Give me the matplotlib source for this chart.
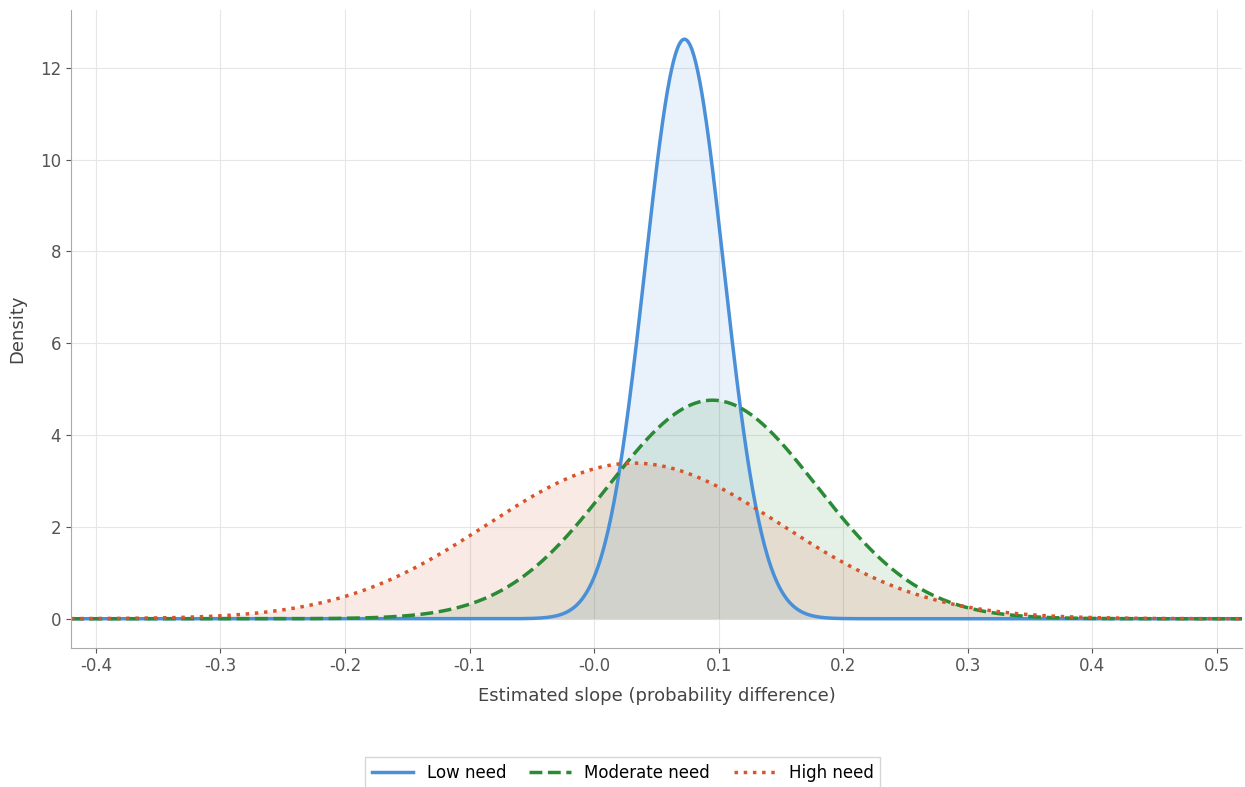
import numpy as np
import matplotlib.pyplot as plt

plt.rcParams['font.family'] = ['DejaVu Sans']

# normal approximations of the slope estimates per group
groups = ["Low need", "Moderate need", "High need"]
means = [0.0725, 0.095, 0.032]
sds = [0.0316, 0.0838, 0.1177]
colors = ["#4a90d9", "#2a8a35", "#d9532b"]
styles = ["-", "--", ":"]

x = np.linspace(-0.42, 0.52, 1200)

fig = plt.figure(figsize=(12.45, 7.87), dpi=100)
ax = fig.add_axes([0.057, 0.177, 0.9405, 0.81])

for name, m, s, c, ls in zip(groups, means, sds, colors, styles):
    y = np.exp(-0.5 * ((x - m) / s) ** 2) / (s * np.sqrt(2 * np.pi))
    ax.plot(x, y, color=c, linestyle=ls, linewidth=2.5, label=name)
    ax.fill_between(x, 0, y, color=c, alpha=0.12, linewidth=0)

ax.set_xlim(-0.42, 0.52)
ax.set_xticks(np.arange(-0.4, 0.51, 0.1))
ax.set_xticklabels(["-0.4", "-0.3", "-0.2", "-0.1", "-0.0", "0.1", "0.2", "0.3", "0.4", "0.5"])
ax.set_yticks([0, 2, 4, 6, 8, 10, 12])
ax.grid(True, color="#e6e6e6", linewidth=0.8)
ax.set_axisbelow(True)
for side in ["top", "right"]:
    ax.spines[side].set_visible(False)
for side in ["left", "bottom"]:
    ax.spines[side].set_color("#aaaaaa")
ax.tick_params(colors="#555555", labelsize=12)
ax.set_xlabel("Estimated slope (probability difference)", fontsize=13, color="#444444", labelpad=8)
ax.set_ylabel("Density", fontsize=13, color="#444444", labelpad=10)

fig.legend(loc="center", bbox_to_anchor=(0.5, 0.018), ncol=3, fontsize=12,
           frameon=True, edgecolor="#cccccc", fancybox=False,
           handlelength=2.5, columnspacing=1.4)

fig.savefig("out.png", dpi=100)
